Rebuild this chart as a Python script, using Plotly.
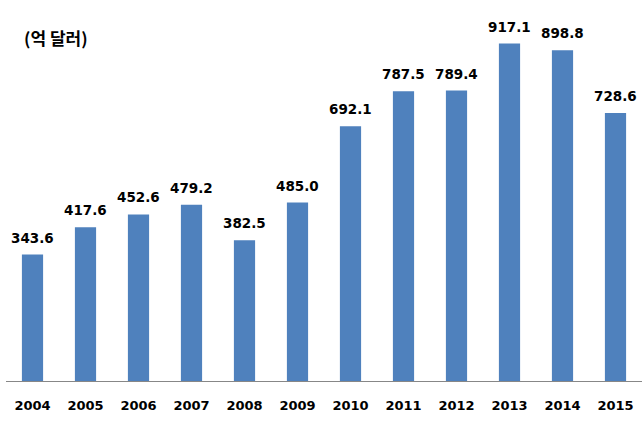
import plotly.graph_objects as go

years = ["2004", "2005", "2006", "2007", "2008", "2009", "2010", "2011", "2012", "2013", "2014", "2015"]
values = [343.6, 417.6, 452.6, 479.2, 382.5, 485.0, 692.1, 787.5, 789.4, 917.1, 898.8, 728.6]
labels = [f"{v:.1f}" for v in values]

fig = go.Figure(go.Bar(
    x=years, y=values,
    marker=dict(color="#4F81BD", line=dict(width=0)),
))
for i, (y, t) in enumerate(zip(values, labels)):
    fig.add_annotation(x=i, y=y, text=t, showarrow=False, yanchor="bottom", yshift=7,
                       font=dict(family="DejaVu Sans", size=13.5, color="black", weight="bold"))
fig.update_layout(
    width=644, height=421,
    margin=dict(l=6, r=2, t=13, b=40),
    plot_bgcolor="white", paper_bgcolor="white",
    bargap=0.6, showlegend=False,
    xaxis=dict(type="category", showline=True, linecolor="#878787", linewidth=1, ticks="",
               ticklabelstandoff=12,
               tickfont=dict(family="DejaVu Sans", size=13, color="black", weight="bold")),
    yaxis=dict(range=[0, 1000], visible=False, showgrid=False),
)
fig.add_annotation(text="(억 달러)", xref="paper", yref="paper", x=0.0, y=1.0,
                   xanchor="left", yanchor="middle", xshift=16, yshift=-24, showarrow=False,
                   font=dict(family="Noto Sans CJK KR", size=17, color="black", weight="bold"))
fig.write_html("out.html")
